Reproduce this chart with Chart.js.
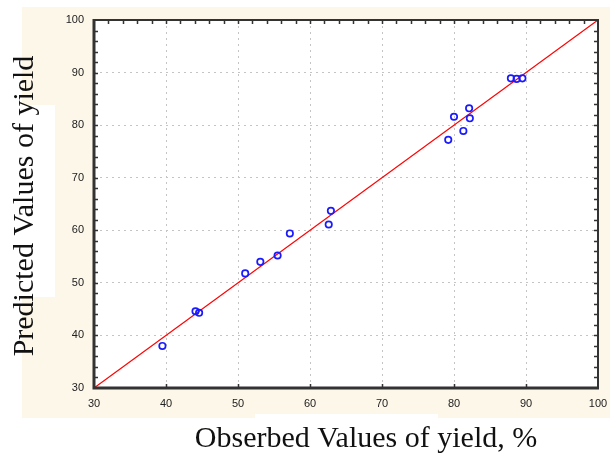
<!DOCTYPE html>
<html>
<head>
<meta charset="utf-8">
<script src="https://cdn.jsdelivr.net/npm/chart.js@4/dist/chart.umd.min.js"></script>
<style>
  body { margin: 0; background: #fff; }
  canvas { display: block; }
</style>
</head>
<body>
<canvas id="myChart" width="613" height="453"></canvas>
<script>
// observed vs predicted yield
var observed  = [39.5, 44.1, 44.6, 51.0, 53.1, 55.5, 57.2, 62.6, 62.9, 79.2, 80.0, 81.3, 82.1, 82.2, 87.9, 88.7, 89.5];
var predicted = [38.0, 44.6, 44.3, 51.8, 54.0, 55.2, 59.4, 61.1, 63.7, 77.2, 81.6, 78.9, 83.2, 81.3, 88.9, 88.8, 88.9];

// line of perfect fit
var fitX = [30, 100];
var fitY = [30, 100];

var axisMin = 30, axisMax = 100;
var xTitle = 'Obserbed Values of yield, %';
var yTitle = 'Predicted Values of yield';

function toPoints(xs, ys) {
    return xs.map(function (x, i) { return { x: x, y: ys[i] }; });
}

var frame = {
    id: 'frame',
    beforeDraw: function (chart) {
        var ctx = chart.ctx, a = chart.chartArea;
        ctx.save();
        ctx.fillStyle = '#ffffff';
        ctx.fillRect(0, 0, chart.width, chart.height);
        ctx.fillStyle = '#fdf7ea';
        ctx.fillRect(22, 7, 588, 411);
        // white patches behind the pasted axis titles
        ctx.fillStyle = '#ffffff';
        ctx.fillRect(22, 105, 33, 192);
        ctx.fillRect(255, 414, 183, 6);
        ctx.fillRect(a.left, a.top, a.right - a.left, a.bottom - a.top);
        ctx.restore();
    },
    afterDraw: function (chart) {
        var ctx = chart.ctx, a = chart.chartArea;
        var xs = chart.scales.x, ys = chart.scales.y;
        ctx.save();
        ctx.strokeStyle = '#333333';
        // minor ticks, every 2 units, pointing inward
        ctx.lineWidth = 1.5;
        ctx.beginPath();
        for (var v = axisMin + 2; v < axisMax; v += 2) {
            var py = Math.round(ys.getPixelForValue(v)) + 0.5;
            var px = Math.round(xs.getPixelForValue(v)) + 0.5;
            ctx.moveTo(a.left, py); ctx.lineTo(a.left + 4, py);
            ctx.moveTo(a.right, py); ctx.lineTo(a.right - 4, py);
            ctx.moveTo(px, a.top); ctx.lineTo(px, a.top + 4);
            if (v % 10 === 0) {
                ctx.moveTo(px, a.bottom); ctx.lineTo(px, a.bottom - 4);
            }
        }
        ctx.stroke();
        // frame: heavier on left and bottom
        ctx.lineWidth = 2;
        ctx.strokeRect(a.left, a.top, a.right - a.left, a.bottom - a.top);
        ctx.lineWidth = 3;
        ctx.beginPath();
        ctx.moveTo(a.left, a.top - 1);
        ctx.lineTo(a.left, a.bottom);
        ctx.lineTo(a.right + 1, a.bottom);
        ctx.stroke();

        // axis titles
        ctx.fillStyle = '#111111';
        ctx.font = '30px "Liberation Serif", "Times New Roman", serif';
        ctx.textAlign = 'center';
        ctx.textBaseline = 'alphabetic';
        ctx.fillText(xTitle, 366, 447);
        ctx.translate(33, 206);
        ctx.rotate(-Math.PI / 2);
        ctx.fillText(yTitle, 0, 0);
        ctx.restore();
    }
};

function fixScale(size) {
    return function (scale) {
        if (scale.isHorizontal()) { scale.height = size; } else { scale.width = size; }
        scale.paddingLeft = 0; scale.paddingRight = 0;
        scale.paddingTop = 0; scale.paddingBottom = 0;
    };
}

var ctx = document.getElementById('myChart').getContext('2d');
var chart = new Chart(ctx, {
    type: 'scatter',
    data: {
        datasets: [{
            label: 'Observed vs predicted',
            data: toPoints(observed, predicted),
            borderColor: '#1a1aff',
            backgroundColor: 'rgba(0,0,0,0)',
            borderWidth: 1.7,
            pointRadius: 3.2,
            pointHoverRadius: 3.2,
            order: 1
        }, {
            type: 'line',
            label: 'Fit',
            data: toPoints(fitX, fitY),
            borderColor: '#ff0000',
            borderWidth: 1.2,
            pointRadius: 0,
            fill: false,
            order: 2
        }]
    },
    plugins: [frame],
    options: {
        responsive: false,
        animation: false,
        layout: { autoPadding: false, padding: { left: 0, right: 15, top: 20, bottom: 0 } },
        plugins: {
            legend: { display: false },
            tooltip: { enabled: false }
        },
        scales: {
            x: {
                type: 'linear',
                min: axisMin, max: axisMax,
                afterFit: fixScale(65),
                ticks: {
                    stepSize: 10,
                    padding: 9,
                    color: '#222222',
                    font: { family: '"Liberation Sans", Arial, sans-serif', size: 11 }
                },
                grid: { color: '#c4c4c4', lineWidth: 1, drawTicks: false },
                border: { display: false, dash: [2, 4] }
            },
            y: {
                type: 'linear',
                min: axisMin, max: axisMax,
                afterFit: fixScale(94),
                ticks: {
                    stepSize: 10,
                    padding: 10,
                    color: '#222222',
                    font: { family: '"Liberation Sans", Arial, sans-serif', size: 11 }
                },
                grid: { color: '#c4c4c4', lineWidth: 1, drawTicks: false },
                border: { display: false, dash: [2, 4] }
            }
        }
    }
});
</script>
</body>
</html>
